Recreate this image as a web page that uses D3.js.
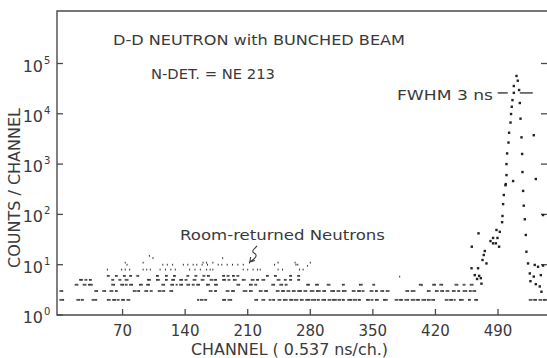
<!DOCTYPE html>
<html>
<head>
<meta charset="utf-8">
<script src="https://cdn.jsdelivr.net/npm/d3@7"></script>
<style>
  body { margin: 0; background: #fff; }
  svg { display: block; }
  text { font-family: "DejaVu Sans", sans-serif; fill: #3a3a3a; }
</style>
</head>
<body>
<div id="chart"></div>
<script>
// channel ticks and decade exponents
const xTicks = [70, 140, 210, 280, 350, 420, 490];
const yExponents = [0, 1, 2, 3, 4, 5];

// background counts read as dashes: [first channel, last channel] at a fixed count
const runsCount2 = [[0,4],[19,22],[24,26],[36,41],[53,56],[59,62],[64,66],[69,72],[75,78],[154,155],[157,160],
  [162,164],[182,185],[188,192],[218,221],[226,229],[234,236],[238,240],[244,247],[250,254],[257,260],[262,266],
  [269,272],[275,279],[281,286],[288,290],[293,297],[300,303],[305,309],[311,314],[316,318],[322,326],[328,332],
  [334,336],[343,346],[348,350],[353,356],[362,366],[375,378],[380,383],[386,390],[393,397],[399,402],[405,409],
  [411,414],[416,419],[431,434],[436,439],[441,442],[447,451],[457,459],[464,467],[525,528],[530,533],[536,539],
  [541,544]];
const runsCount3 = [[0,3],[39,42],[48,51],[56,59],[62,64],[82,85],[87,89],[95,98],[101,103],[110,113],[115,117],
  [123,126],[167,170],[173,175],[186,189],[192,195],[205,209],[212,215],[223,226],[229,232],[242,245],[248,251],
  [254,257],[260,263],[266,270],[273,276],[280,284],[287,291],[294,297],[303,307],[310,313],[316,320],[327,330],
  [333,336],[338,340],[347,350],[353,355],[359,362],[365,368],[387,390],[393,397],[411,414],[420,423],[426,429],
  [432,435],[439,442],[445,447],[451,455],[458,460],[462,465]];
const runsCount4 = [[17,20],[26,29],[32,36],[58,61],[68,71],[73,75],[78,81],[89,92],[97,100],[114,117],[124,127],
  [130,131],[134,137],[142,145],[148,150],[153,156],[164,167],[173,176],[198,201],[212,215],[218,220],[237,240],
  [246,249],[252,254],[276,279],[286,289],[299,302],[316,318],[335,338],[350,352],[402,405],[417,420],[425,428],
  [442,445],[451,453],[459,462]];
const runsCount5 = [[22,25],[28,30],[33,35],[58,60],[66,68],[73,76],[98,101],[108,111],[118,120],[125,128],
  [134,137],[140,142],[149,152],[158,161],[168,171],[173,175],[182,185],[188,190],[194,197],[204,207],[214,217],
  [220,222],[226,229],[243,246],[251,253],[257,259],[266,268]];
const runsCount6 = [[53,55],[62,64],[71,73],[78,80],[86,88],[108,110],[118,120],[127,129],[142,144],[151,153],
  [160,162],[165,167],[182,184],[187,189],[193,195],[198,200],[231,233],[240,242],[257,259],[266,268]];

// single scattered channels in the flat part: [channel, count]
const scatterPoints = [[53,8],[69,8],[73,8],[78,8],[93,8],[97,8],[101,8],[112,8],[118,8],[124,8],[129,8],
  [145,8],[151,8],[157,8],[164,8],[168,8],[171,8],[205,8],[210,8],[216,8],[221,8],[224,8],[244,8],[249,8],
  [268,8],[272,8],[75,10],[115,10],[120,10],[126,10],[138,10],[143,10],[149,10],[153,10],[159,10],[165,10],
  [177,10],[187,10],[193,10],[199,10],[205,10],[164,11],[171,11],[181,10],[240,10],[244,11],[266,10],
  [280,11],[212,11],[263,11],[73,11],[93,11],[104,13.5],[182,13.5],[160,11],[100,15],[264,10],[277,9.5],
  [380,5.8],[405,3.9]];

// the direct-neutron peak: [channel, count]
const peakPoints = [[510.7,56500],[512.1,45500],[507.7,35700],[513.6,29700],[507.7,26100],[506.2,18700],
  [514.4,16400],[505.4,13800],[504.6,9900],[515.2,8000],[504.0,6700],[502.4,4200],[516.3,3400],[530.0,3750],
  [501.7,2680],[500.2,1630],[517.0,1590],[499.5,1000],[517.4,695],[499.5,605],[506.9,460],[532.3,505],
  [498.7,400],[498.4,380],[518.1,293],[496.5,243],[495.7,160],[518.8,149],[540.4,97],[495.0,93],[520.0,80],
  [494.6,70],[488.3,49],[492.0,45],[468.2,42],[484.5,34],[489.4,34],[521.1,39],[481.6,29.5],[484.5,26.6],
  [487.6,26.6],[460.7,22.8],[491.2,22.8],[475.2,18.7],[521.8,18.1],[474.1,15.6],[472.7,12.4],[477.1,10.6],
  [460.4,8.5],[467.7,8.5],[523.6,10.6],[531.1,9.9],[534.8,9.1],[540.4,9.6],[464.0,6.2],[468.9,6.0],
  [466.6,5.2],[470.8,5.4],[525.6,6.7],[530.0,5.8],[537.9,6.2],[471.5,4.2],[526.3,4.7],[532.3,4.1],
  [536.7,3.7],[538.6,2.9]];

// FWHM marker: level and the two dashes either side of the peak
const fwhmLevel = 26000;
const fwhmDashes = [[489.7, 500.9], [514.4, 528.9]];

const width = 547;
const height = 358;
const plotLeft = 57, plotRight = 549, plotTop = 11, plotBottom = 315;

const x = d3.scaleLinear().domain([0, 490]).range([60, 498]);
const y = d3.scaleLog().domain([1, 1e5]).range([plotBottom, 63.5]);

const svg = d3.select('#chart')
  .append('svg')
  .attr('width', width)
  .attr('height', height);

// frame
svg.append('path')
  .attr('d', `M${plotRight},${plotTop} L${plotLeft},${plotTop} L${plotLeft},${plotBottom} L${plotRight},${plotBottom}`)
  .attr('fill', 'none')
  .attr('stroke', '#4a4a4a')
  .attr('stroke-width', 1.4);

// x ticks (inward)
svg.append('g')
  .selectAll('line')
  .data(xTicks)
  .join('line')
  .attr('x1', d => x(d)).attr('x2', d => x(d))
  .attr('y1', plotBottom).attr('y2', plotBottom - 6)
  .attr('stroke', '#4a4a4a')
  .attr('stroke-width', 1.3);

svg.append('g')
  .selectAll('text')
  .data(xTicks)
  .join('text')
  .attr('x', d => x(d))
  .attr('y', 336)
  .attr('text-anchor', 'middle')
  .attr('font-size', 15)
  .text(d => d);

// y ticks on both sides
const yTickG = svg.append('g');
yTickG.selectAll('line.l')
  .data(yExponents)
  .join('line')
  .attr('class', 'l')
  .attr('x1', plotLeft).attr('x2', plotLeft + 6)
  .attr('y1', d => y(Math.pow(10, d))).attr('y2', d => y(Math.pow(10, d)))
  .attr('stroke', '#4a4a4a')
  .attr('stroke-width', 1.3);
yTickG.selectAll('line.r')
  .data(yExponents.slice(1))
  .join('line')
  .attr('class', 'r')
  .attr('x1', 541).attr('x2', plotRight)
  .attr('y1', d => y(Math.pow(10, d))).attr('y2', d => y(Math.pow(10, d)))
  .attr('stroke', '#4a4a4a')
  .attr('stroke-width', 1.3);

const yLab = svg.append('g')
  .selectAll('g')
  .data(yExponents)
  .join('g');
yLab.append('text')
  .attr('x', 43)
  .attr('y', d => y(Math.pow(10, d)) + 8)
  .attr('text-anchor', 'end')
  .attr('font-size', 16)
  .text('10');
yLab.append('text')
  .attr('x', 44)
  .attr('y', d => y(Math.pow(10, d)))
  .attr('font-size', 10)
  .text(d => d);

// axis titles
svg.append('text')
  .attr('transform', 'translate(20,188) rotate(-90)')
  .attr('text-anchor', 'middle')
  .attr('font-size', 15)
  .attr('textLength', 160)
  .attr('lengthAdjust', 'spacingAndGlyphs')
  .text('COUNTS / CHANNEL');

svg.append('text')
  .attr('x', 191)
  .attr('y', 355)
  .attr('font-size', 15)
  .attr('textLength', 197)
  .attr('lengthAdjust', 'spacingAndGlyphs')
  .text('CHANNEL ( 0.537 ns/ch.)');

// annotations
const notes = [
  { text: 'D-D NEUTRON with BUNCHED BEAM', x: 113, y: 45, len: 292 },
  { text: 'N-DET. = NE 213', x: 151, y: 79, len: 124 },
  { text: 'FWHM 3 ns', x: 397, y: 100, len: 96 },
  { text: 'Room-returned  Neutrons', x: 180, y: 240, len: 205 }
];
svg.append('g')
  .selectAll('text')
  .data(notes)
  .join('text')
  .attr('x', d => d.x)
  .attr('y', d => d.y)
  .attr('font-size', 14)
  .attr('textLength', d => d.len)
  .attr('lengthAdjust', 'spacingAndGlyphs')
  .text(d => d.text);

// squiggly arrow under the label
svg.append('path')
  .attr('d', 'M257,246 C254,249 251,251 254,253 C258,255 256,258 250,262 M250,262 L250.5,257 M250,262 L255,260.5')
  .attr('fill', 'none')
  .attr('stroke', '#3a3a3a')
  .attr('stroke-width', 1.1);

// FWHM dashes
svg.append('g')
  .selectAll('line')
  .data(fwhmDashes)
  .join('line')
  .attr('x1', d => x(d[0])).attr('x2', d => x(d[1]))
  .attr('y1', y(fwhmLevel)).attr('y2', y(fwhmLevel))
  .attr('stroke', '#3a3a3a')
  .attr('stroke-width', 1.4);

// expand dash runs into one point per channel
const basePoints = [];
[[2, runsCount2], [3, runsCount3], [4, runsCount4], [5, runsCount5], [6, runsCount6]].forEach(([count, runs]) => {
  runs.forEach(([a, b]) => {
    for (let c = a; c <= b; c++) basePoints.push([c, count]);
  });
});

svg.append('g')
  .selectAll('rect')
  .data(basePoints.concat(scatterPoints))
  .join('rect')
  .attr('x', d => x(d[0]) - 0.5)
  .attr('y', d => y(d[1]) - 0.9)
  .attr('width', 1.0)
  .attr('height', 1.8)
  .attr('fill', '#333');

svg.append('g')
  .selectAll('rect')
  .data(peakPoints)
  .join('rect')
  .attr('x', d => x(d[0]) - 1.2)
  .attr('y', d => y(d[1]) - 1.2)
  .attr('width', 2.4)
  .attr('height', 2.4)
  .attr('fill', '#222');
</script>
</body>
</html>
